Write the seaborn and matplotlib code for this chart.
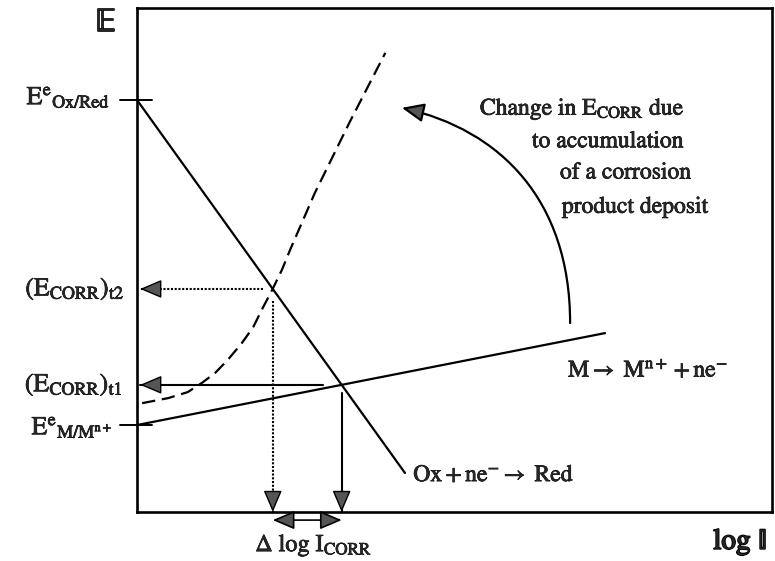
import numpy as np
import matplotlib
matplotlib.use("Agg")
import matplotlib.pyplot as plt
import matplotlib.patheffects as pe
import seaborn as sns
from matplotlib.patches import FancyArrowPatch
from matplotlib.path import Path

# Evans diagram: potential E against log I (arbitrary units)
cathodic_log_i = [0.0, 4.22]          # Ox + ne- -> Red
cathodic_e = [8.175, 0.774]
anodic_log_i = [0.0, 7.37]            # M -> M(n+) + ne-
anodic_e = [1.726, 3.55]
# anodic curve once a corrosion product deposit has built up
deposit_log_i = [0.08, 0.49, 0.80, 1.02, 1.23, 1.43, 1.65, 1.83, 1.98, 2.13,
                 2.28, 2.41, 2.80, 3.35, 3.91]
deposit_e = [2.16, 2.26, 2.38, 2.56, 2.76, 3.02, 3.35, 3.67, 4.05, 4.41,
             4.80, 5.20, 6.33, 7.74, 9.11]
# curved arrow showing the shift of E_CORR (Bezier control points)
shift_arrow_log_i = [6.82, 6.82, 5.72, 4.17]
shift_arrow_e = [3.75, 6.19, 7.58, 8.02]

sns.set_theme(style="white")
plt.rcParams["font.family"] = ["STIXGeneral", "DejaVu Serif"]
plt.rcParams["mathtext.fontset"] = "stix"

fig = plt.figure(figsize=(7.75, 5.61), dpi=100)
ax = fig.add_axes([0.1768, 0.0873, 0.8194, 0.8984])
ax.set_xlim(0, 10)
ax.set_ylim(0, 10)
ax.set_xticks([])
ax.set_yticks([])
for sp in ax.spines.values():
    sp.set_visible(True)
    sp.set_color("black")
    sp.set_linewidth(1.9)

LW = 1.6
sns.lineplot(x=cathodic_log_i, y=cathodic_e, ax=ax, color="black", lw=LW)
sns.lineplot(x=anodic_log_i, y=anodic_e, ax=ax, color="black", lw=LW)
sns.lineplot(x=deposit_log_i, y=deposit_e, ax=ax, color="black", lw=LW,
             linestyle=(0, (6, 3)))

# corrosion points from the intersections of the curves
cath_slope = (cathodic_e[1] - cathodic_e[0]) / (cathodic_log_i[1] - cathodic_log_i[0])
an_slope = (anodic_e[1] - anodic_e[0]) / (anodic_log_i[1] - anodic_log_i[0])
t1_x = (anodic_e[0] - cathodic_e[0]) / (cath_slope - an_slope)
t1_y = cathodic_e[0] + cath_slope * t1_x
grid = np.linspace(deposit_log_i[0], deposit_log_i[-1], 2000)
diff = np.interp(grid, deposit_log_i, deposit_e) - (cathodic_e[0] + cath_slope * grid)
k = np.argmax(diff > 0)
t2_x = grid[k]
t2_y = cathodic_e[0] + cath_slope * t2_x

head = dict(arrowstyle="-|>,head_length=0.75,head_width=0.32", mutation_scale=18,
            fc="#555555", ec="black", lw=1.0, shrinkA=0, shrinkB=0)


def arrow_head(tip, frm):
    ax.annotate("", xy=tip, xytext=frm, arrowprops=head, annotation_clip=False)


# t2: dotted guides
ax.plot([t2_x - 0.16, 0.05], [t2_y, t2_y], color="black", lw=1.5, ls=(0, (1, 0.8)))
arrow_head((0.05, t2_y), (0.35, t2_y))
ax.plot([t2_x, t2_x], [t2_y - 0.24, 0.0], color="black", lw=1.5, ls=(0, (1, 0.8)))
arrow_head((t2_x, 0.0), (t2_x, 0.3))

# t1: solid guides
ax.plot([t1_x - 0.29, 0.05], [t1_y, t1_y], color="black", lw=1.5)
arrow_head((0.05, t1_y), (0.35, t1_y))
ax.plot([t1_x, t1_x], [t1_y - 0.16, 0.0], color="black", lw=1.5)
arrow_head((t1_x, 0.0), (t1_x, 0.3))

# delta log I_CORR double arrow below the axis
ax.annotate("", xy=(t1_x, -0.16), xytext=(t2_x, -0.16), annotation_clip=False,
            arrowprops=dict(arrowstyle="<|-|>,head_length=0.75,head_width=0.32",
                            mutation_scale=18, fc="#555555", ec="black", lw=1.2,
                            shrinkA=0, shrinkB=0))

# equilibrium potential ticks across the E axis
for e in (cathodic_e[0], anodic_e[0]):
    ax.plot([-0.27, 0.24], [e, e], color="black", lw=1.4, clip_on=False)

# curved arrow for the shift of E_CORR
verts = list(zip(shift_arrow_log_i, shift_arrow_e))
codes = [Path.MOVETO, Path.CURVE4, Path.CURVE4, Path.CURVE4]
ax.add_patch(FancyArrowPatch(path=Path(verts, codes),
                             arrowstyle="-|>,head_length=0.75,head_width=0.32",
                             mutation_scale=18, fc="#555555", ec="black", lw=1.6))

# labels
bold = [pe.withStroke(linewidth=1.2, foreground="black")]
thick = [pe.withStroke(linewidth=0.5, foreground="black")]
FS = 18.5
ax.text(-0.49, 9.7, "\U0001D53C", fontsize=24, ha="center", va="center",
        path_effects=bold)
ax.text(-0.42, cathodic_e[0] + 0.05, r"$\mathrm{E}^{\mathrm{e}}{}_{\mathrm{Ox/Red}}$",
        fontsize=FS, ha="right", va="center", path_effects=thick)
ax.text(-0.19, t2_y, r"$(\mathrm{E}_{\mathrm{CORR}})_{\mathrm{t2}}$",
        fontsize=FS, ha="right", va="center", path_effects=thick)
ax.text(-0.22, t1_y, r"$(\mathrm{E}_{\mathrm{CORR}})_{\mathrm{t1}}$",
        fontsize=FS, ha="right", va="center", path_effects=thick)
ax.text(-0.38, anodic_e[0] - 0.05, r"$\mathrm{E}^{\mathrm{e}}{}_{\mathrm{M/M^{n+}}}$",
        fontsize=FS, ha="right", va="center", path_effects=thick)

ax.text(6.79, 2.82, r"$\mathrm{M} \rightarrow\ \mathrm{M}^{\mathrm{n+}} + \mathrm{ne}^{-}$",
        fontsize=17, ha="left", va="center", path_effects=thick)
ax.text(4.35, 0.73, r"$\mathrm{Ox} + \mathrm{ne}^{-} \rightarrow\ \mathrm{Red}$",
        fontsize=17, ha="left", va="center", path_effects=thick)

note = [(5.40, 8.0, r"Change in E$_{\mathrm{CORR}}$ due"),
        (6.22, 7.35, "to accumulation"),
        (6.66, 6.73, "of a corrosion"),
        (6.69, 6.05, "product deposit")]
for x, y, s in note:
    ax.text(x, y, s, fontsize=17, ha="left", va="center", path_effects=thick)

ax.text((t1_x + t2_x) / 2 + 0.1, -0.66, r"$\Delta\ \mathrm{log}\ \mathrm{I}_{\mathrm{CORR}}$",
        fontsize=17.5, ha="center", va="center", path_effects=thick)
ax.text(9.5, -0.6, "log \U0001D540", fontsize=21,
        ha="center", va="center", path_effects=bold)

fig.savefig("out.png", dpi=100)
